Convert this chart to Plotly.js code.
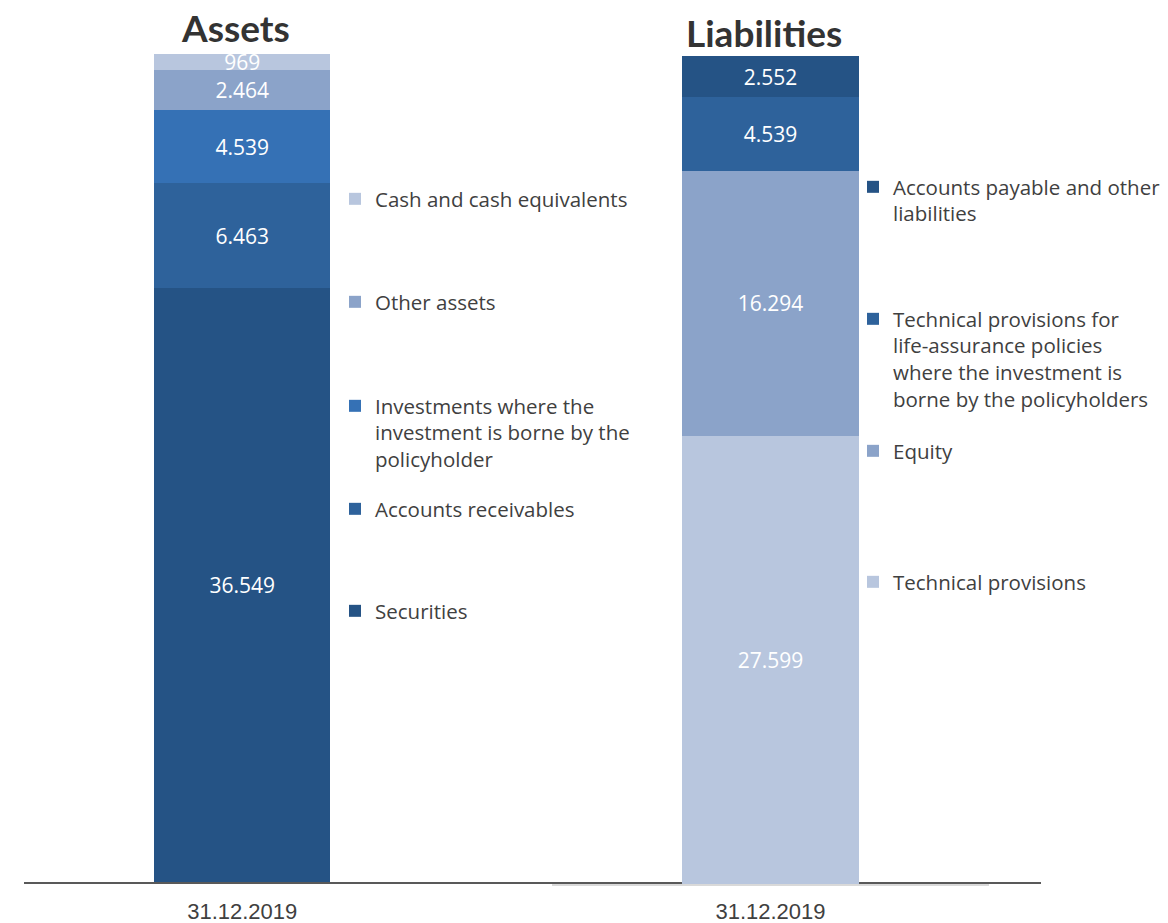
<!DOCTYPE html>
<html>
<head>
<meta charset="utf-8">
<script src="https://cdn.plot.ly/plotly-3.0.1.min.js"></script>
<style>html,body{margin:0;padding:0;background:#fff;}#chart{width:1168px;height:923px;}</style>
</head>
<body>
<div id="chart"></div>
<script>
// ---- data ----
const dates = ["31.12.2019"];
const assetNames = ["Securities", "Accounts receivables", "Investments where the<br>investment is borne by the<br>policyholder", "Other assets", "Cash and cash equivalents"];
const assetValues = [36549, 6463, 4539, 2464, 969];
const liabNames = ["Technical provisions", "Equity", "Technical provisions for<br>life-assurance policies<br>where the investment is<br>borne by the policyholders", "Accounts payable and other<br>liabilities"];
const liabValues = [27599, 16294, 4539, 2552];
const titles = ["Assets", "Liabilities"];

// ---- style ----
const assetColors = ["#255385", "#2e629b", "#3571b5", "#8ba3c9", "#b8c6de"];
const liabColors = ["#b8c6de", "#8ba3c9", "#2e629b", "#255385"];
// legend anchor (text-left x, first-line centre y) in pixels
const assetLegendPos = [[375, 612], [375, 510], [375, 407], [375, 303], [375, 200]];
const liabLegendPos = [[893, 583], [893, 452], [893, 320], [893, 188]];

const W = 1168, H = 923;
const legendFont = {family: "Open Sans, sans-serif", size: 20.5, color: "#404040"};
const barFont = {family: "Open Sans, sans-serif", size: 21, color: "#ffffff"};
const LEG_OFF = 21;

const traces = [];
const layout = {
  width: W, height: H,
  margin: {l: 0, r: 0, t: 0, b: 0},
  paper_bgcolor: "#ffffff", plot_bgcolor: "rgba(0,0,0,0)",
  barmode: "stack",
  separators: ",.",
  showlegend: true,
  annotations: [],
};

let legIdx = 1;
function addTrace(name, value, color, pos, xa, ya) {
  const lid = legIdx === 1 ? "legend" : "legend" + legIdx;
  traces.push({
    type: "bar", x: dates, y: [value], name: name,
    xaxis: xa, yaxis: ya, width: 0.404,
    marker: {color: color, line: {width: 0}},
    texttemplate: "%{y:,d}", textposition: "inside", insidetextanchor: "middle",
    constraintext: "none", cliponaxis: false,
    textfont: barFont, hoverinfo: "name+y",
    legend: lid,
  });
  layout[lid] = {
    x: (pos[0] - 40) / W, xanchor: "left",
    y: 1 - (pos[1] - LEG_OFF) / H, yanchor: "top",
    bgcolor: "rgba(0,0,0,0)", borderwidth: 0,
    font: legendFont, valign: "top",
  };
  legIdx++;
}
assetNames.forEach((n, i) => addTrace(n, assetValues[i], assetColors[i], assetLegendPos[i], "x", "y"));
liabNames.forEach((n, i) => addTrace(n, liabValues[i], liabColors[i], liabLegendPos[i], "x2", "y2"));

const assetTotal = assetValues.reduce((a, b) => a + b, 0);
const liabTotal = liabValues.reduce((a, b) => a + b, 0);
const tickFont = {family: "Liberation Sans, Arial, sans-serif", size: 22, color: "#404040"};

layout.xaxis = {
  domain: [24 / W, 1041 / W], anchor: "y", type: "category",
  range: [-0.5, 1.83], showgrid: false, zeroline: false,
  showline: true, linecolor: "#595959", linewidth: 2,
  ticks: "", tickfont: tickFont, ticklabelstandoff: 9, fixedrange: true,
};
layout.yaxis = {
  domain: [1 - 882 / H, 1 - 54 / H], anchor: "x",
  range: [0, assetTotal], visible: false, fixedrange: true,
};
layout.xaxis2 = {
  domain: [552 / W, 989 / W], anchor: "y2", type: "category",
  range: [-0.5, 0.5], showgrid: false, zeroline: false,
  showline: true, linecolor: "#d9d9d9", linewidth: 2,
  ticks: "", tickfont: tickFont, ticklabelstandoff: 7, fixedrange: true,
};
layout.yaxis2 = {
  domain: [1 - 884 / H, 1 - 56 / H], anchor: "x2",
  range: [0, liabTotal], visible: false, fixedrange: true,
};

const titleFont = {family: "Lato, Open Sans, sans-serif", size: 37, color: "#333333", weight: 700};
layout.annotations.push(
  {text: "<b>" + titles[0] + "</b>", xref: "paper", yref: "paper", x: 235 / W, y: 1 - 28 / H,
   xanchor: "center", yanchor: "middle", showarrow: false, font: titleFont},
  {text: "<b>" + titles[1] + "</b>", xref: "paper", yref: "paper", x: 764 / W, y: 1 - 32 / H,
   xanchor: "center", yanchor: "middle", showarrow: false, font: titleFont}
);

Plotly.newPlot("chart", traces, layout, {displayModeBar: false, staticPlot: false});
</script>
</body>
</html>
